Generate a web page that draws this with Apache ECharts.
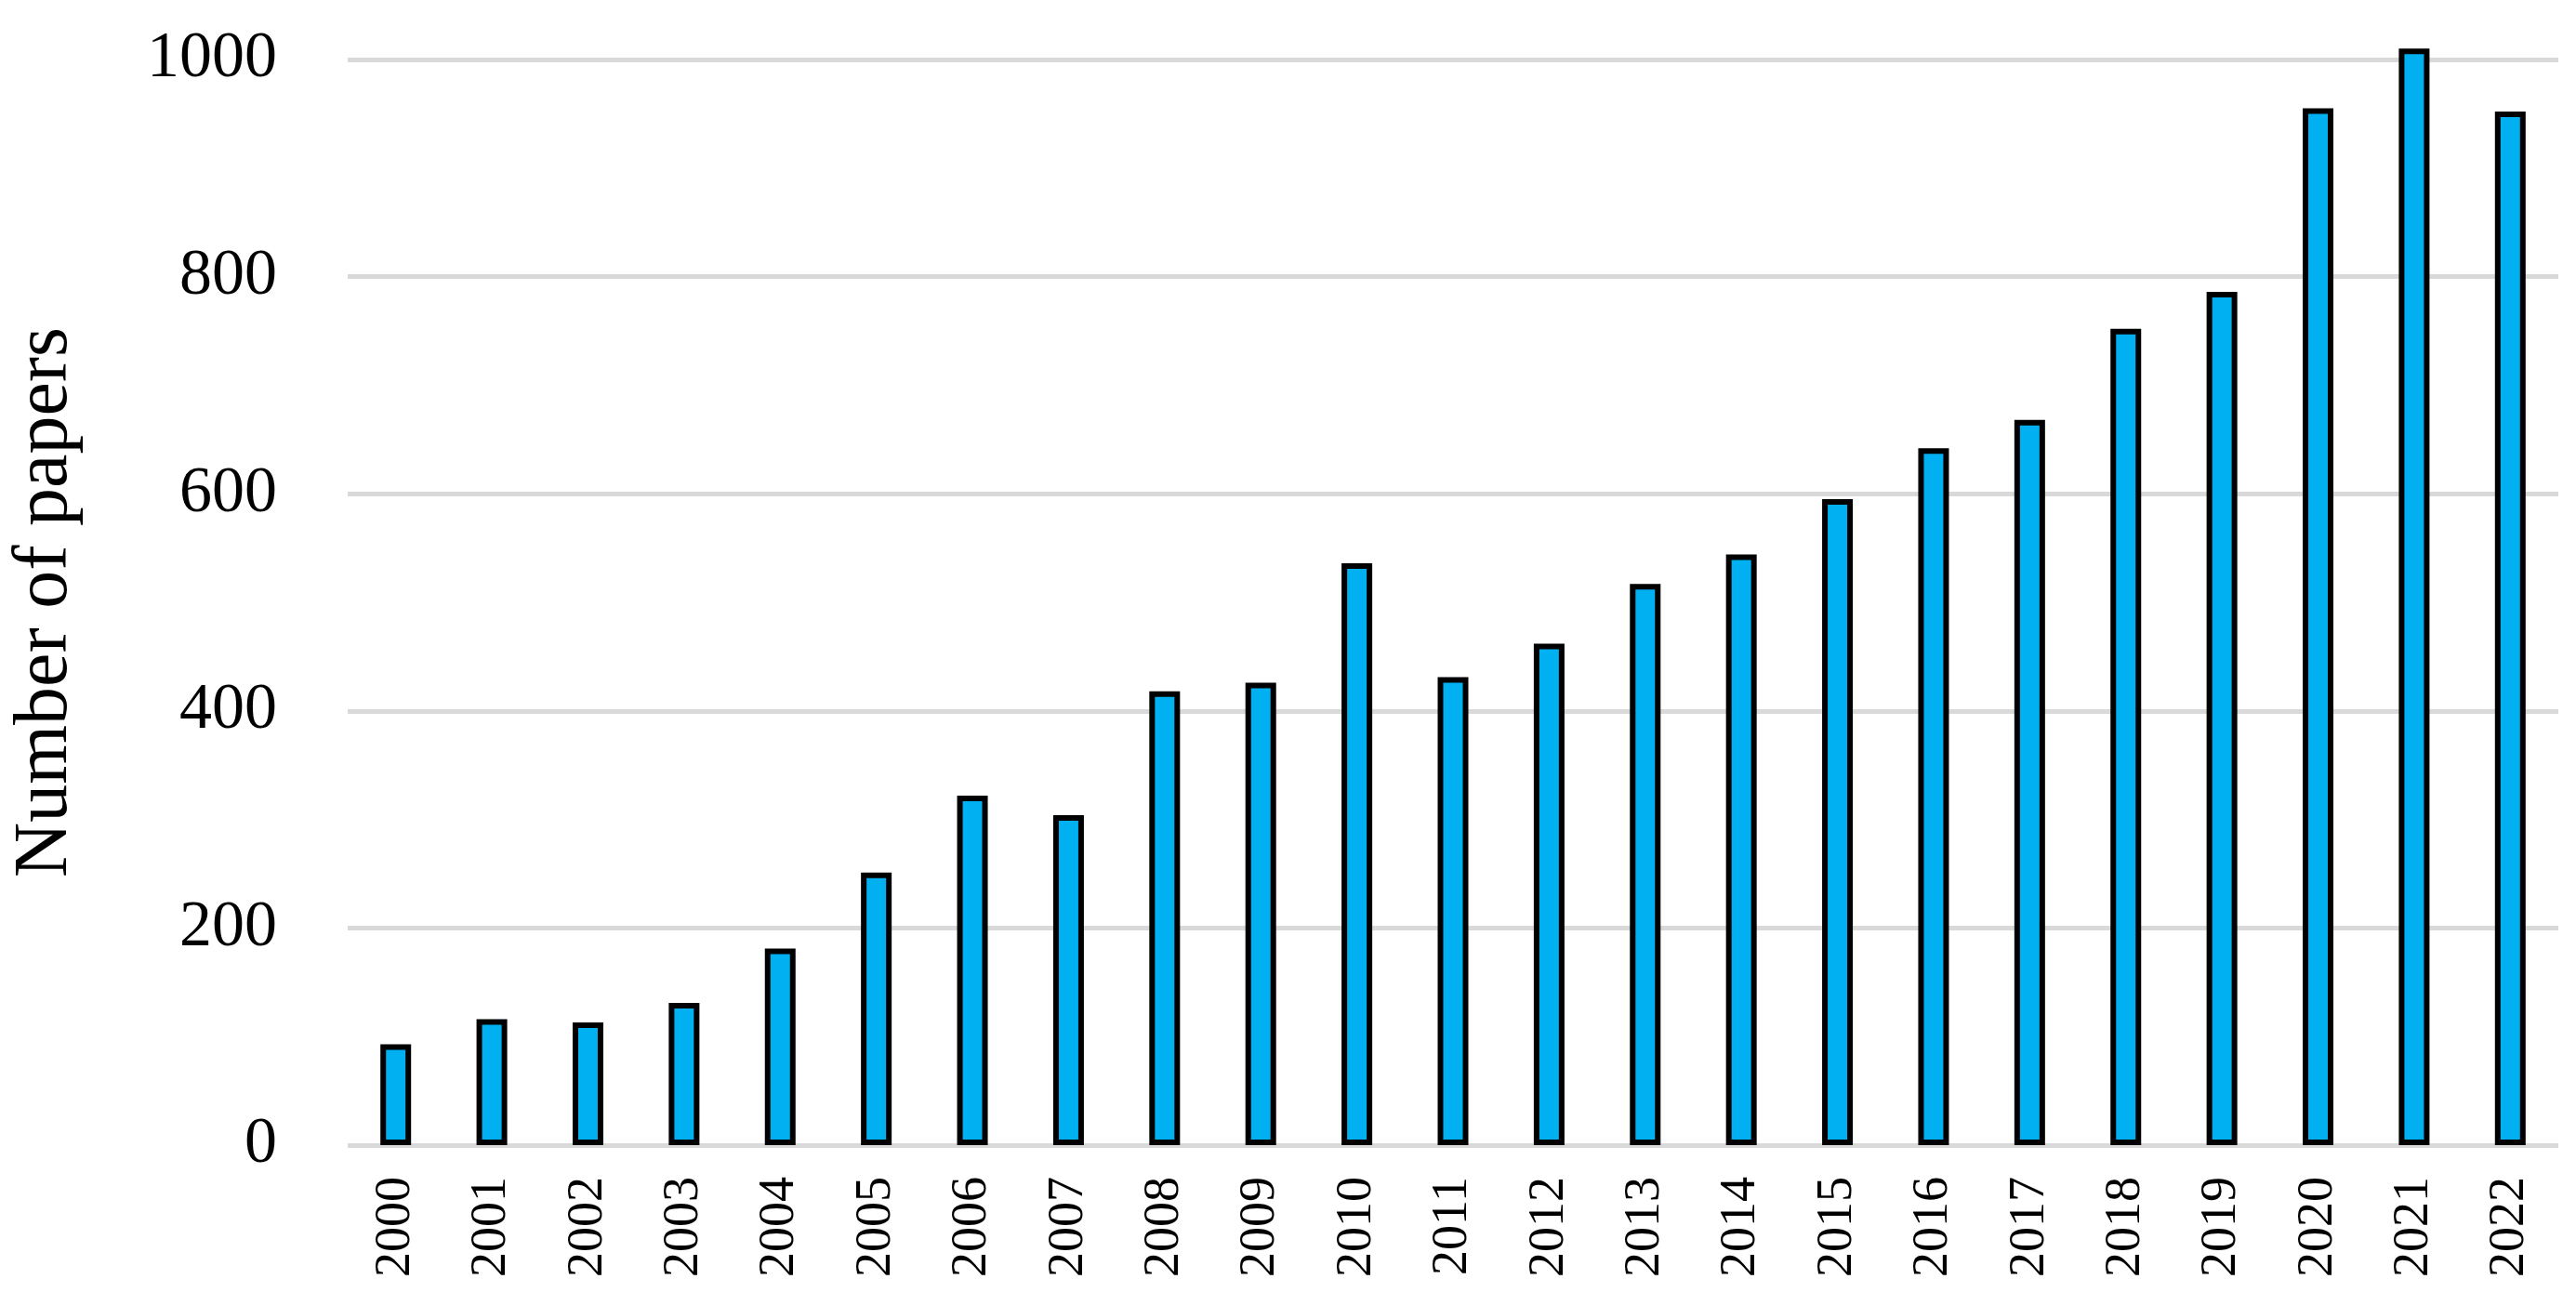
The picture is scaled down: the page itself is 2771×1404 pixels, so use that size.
<!DOCTYPE html>
<html>
<head>
<meta charset="utf-8">
<script src="https://cdn.jsdelivr.net/npm/echarts@6/dist/echarts.min.js"></script>
<style>
html,body{margin:0;padding:0;background:#fff;}
#chart{width:2771px;height:1404px;}
</style>
</head>
<body>
<div id="chart"></div>
<script>
const years = ['2000','2001','2002','2003','2004','2005','2006','2007','2008','2009','2010','2011','2012','2013','2014','2015','2016','2017','2018','2019','2020','2021','2022'];
const papers = [93,116,113,131,181,251,322,304,418,426,536,431,462,517,544,595,642,668,752,786,955,1010,952];
const yTicks = [0,200,400,600,800,1000];
const yTitle = 'Number of papers';

const chart = echarts.init(document.getElementById('chart'));
chart.setOption({
  animation: false,
  backgroundColor: '#ffffff',
  grid: {left: 374, right: 19, top: 64, bottom: 172, containLabel: false},
  xAxis: {
    type: 'category',
    data: years,
    axisLine: {show: false},
    axisTick: {show: false},
    axisLabel: {
      rotate: 90,
      margin: 34,
      fontFamily: 'Liberation Serif',
      fontSize: 54,
      color: '#000'
    }
  },
  yAxis: {
    type: 'value',
    min: yTicks[0],
    max: yTicks[yTicks.length - 1],
    interval: 200,
    name: yTitle,
    nameLocation: 'middle',
    nameRotate: 90,
    nameGap: 284,
    nameTextStyle: {fontFamily: 'Liberation Serif', fontSize: 82, color: '#000'},
    axisLine: {show: false},
    axisTick: {show: false},
    axisLabel: {
      margin: 76,
      fontFamily: 'Liberation Serif',
      fontSize: 70,
      color: '#000',
      formatter: function (v) { return String(v); }
    },
    splitLine: {show: true, lineStyle: {color: '#d9d9d9', width: 5}}
  },
  series: [{
    type: 'bar',
    data: papers,
    barWidth: 33,
    clip: false,
    itemStyle: {color: '#00b0f0', borderColor: '#000', borderWidth: 6}
  }]
});
</script>
</body>
</html>
